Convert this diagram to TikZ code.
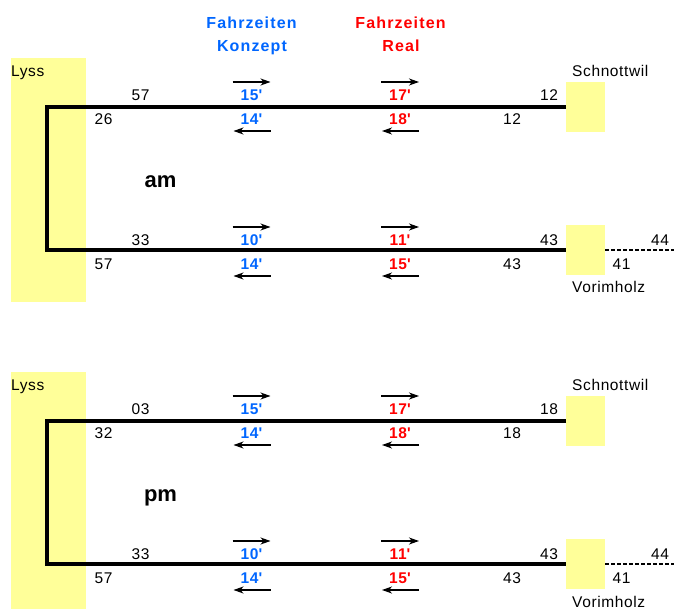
\documentclass[tikz,border=0pt]{standalone}
\usepackage{fontspec}
\setmainfont{Liberation Sans}
\newfontfamily\labelfont{Liberation Sans}[LetterSpace=4]
\newfontfamily\headfont{Liberation Sans}[LetterSpace=7]
\usetikzlibrary{arrows.meta}

\definecolor{stationyellow}{HTML}{FFFF99}
\definecolor{konzeptblue}{HTML}{0066FF}
\definecolor{realred}{HTML}{FF0000}

\tikzset{
  station/.style={fill=stationyellow, draw=none, inner sep=0pt, outer sep=0pt, anchor=north west},
  track/.style={line width=4pt, line join=miter},
  lbl/.style={inner sep=0pt, anchor=base, font=\labelfont\fontsize{15.5}{18}\selectfont},
  stationname/.style={lbl, anchor=base west},
  konzept/.style={lbl, text=konzeptblue, font=\labelfont\fontsize{15.5}{18}\selectfont\bfseries},
  real/.style={konzept, text=realred},
  heading/.style={lbl, font=\headfont\fontsize{16}{19}\selectfont\bfseries},
  period/.style={lbl, font=\fontsize{22}{26}\selectfont\bfseries},
  dirarrow/.style={line width=1.2pt, -{Stealth[length=10pt,width=7pt,inset=3pt]}},
  extension/.style={line width=1.1pt, dash pattern=on 4pt off 2pt},
}

% One timetable block: #1 name prefix, #2 vertical shift, #3 period label,
% #4 departure at Lyss, #5 arrival at Lyss, #6 time at Schnottwil
\newcommand\drawperiod[6]{%
\begin{scope}[yshift=#2]
  % stations
  \node[station, minimum width=75pt, minimum height=244pt] (#1-lyss) at (11,58) {};
  \node[station, minimum width=39pt, minimum height=50pt] (#1-schn) at (566,82) {};
  \node[station, minimum width=39pt, minimum height=50pt] (#1-vor) at (566,225) {};
  \node[stationname] (#1-lysslbl) at (11,76.7) {Lyss};
  \node[stationname] (#1-schnlbl) at (572,76.7) {Schnottwil};
  \node[stationname] (#1-vorlbl) at (572,293) {Vorimholz};
  % track
  \coordinate (#1-loop) at (47,0);
  \coordinate (#1-edge) at (674,0);
  \draw[track] (#1-schn.west) -- (#1-schn.west -| #1-loop)
               -- (#1-vor.west -| #1-loop) -- (#1-vor.west);
  \draw[extension] (#1-vor.east) -- (#1-vor.east -| #1-edge);
  % times along the upper branch
  \node[lbl] (#1-t1) at (140.5,100.5) {#4};
  \node[lbl] (#1-t2) at (103.5,124.5) {#5};
  \node[lbl] (#1-t3) at (549,100.5) {#6};
  \node[lbl] (#1-t4) at (512,124.5) {#6};
  % times along the lower branch
  \node[lbl] (#1-t5) at (140.5,245.5) {33};
  \node[lbl] (#1-t6) at (103.5,269.5) {57};
  \node[lbl] (#1-t7) at (549,245.5) {43};
  \node[lbl] (#1-t8) at (512,269.5) {43};
  \node[lbl] (#1-t9) at (660,245.5) {44};
  \node[lbl] (#1-t10) at (621.5,269.5) {41};
  % running times
  \node[konzept] (#1-k1) at (251.5,100.5) {15\textquotesingle};
  \node[konzept] (#1-k2) at (251.5,124.5) {14\textquotesingle};
  \node[konzept] (#1-k3) at (251.5,245.5) {10\textquotesingle};
  \node[konzept] (#1-k4) at (251.5,269.5) {14\textquotesingle};
  \node[real] (#1-r1) at (400,100.5) {17\textquotesingle};
  \node[real] (#1-r2) at (400,124.5) {18\textquotesingle};
  \node[real] (#1-r3) at (400,245.5) {11\textquotesingle};
  \node[real] (#1-r4) at (400,269.5) {15\textquotesingle};
  % direction arrows
  \foreach \n in {k1,k3,r1,r3}
    \draw[dirarrow] ([xshift=-19pt,yshift=18.5pt]#1-\n.base) -- ([xshift=19pt,yshift=18.5pt]#1-\n.base);
  \foreach \n in {k2,k4,r2,r4}
    \draw[dirarrow] ([xshift=19pt,yshift=-6.5pt]#1-\n.base) -- ([xshift=-18pt,yshift=-6.5pt]#1-\n.base);
  % period
  \node[period] (#1-period) at (160.5,187.5) {#3};
\end{scope}}

\begin{document}
\begin{tikzpicture}[x=1pt, y=-1pt]
  \useasboundingbox (0,0) rectangle (674,609);
  \clip (0,0) rectangle (674,609);
  % column headings
  \node[heading, text=konzeptblue] (head-k1) at (251.5,29) {Fahrzeiten};
  \node[heading, text=konzeptblue] (head-k2) at (252,52) {Konzept};
  \node[heading, text=realred] (head-r1) at (400.5,29) {Fahrzeiten};
  \node[heading, text=realred] (head-r2) at (401,52) {Real};
  % morning and afternoon blocks
  \drawperiod{am}{0pt}{am}{57}{26}{12}
  \drawperiod{pm}{-314pt}{pm}{03}{32}{18}
\end{tikzpicture}
\end{document}
